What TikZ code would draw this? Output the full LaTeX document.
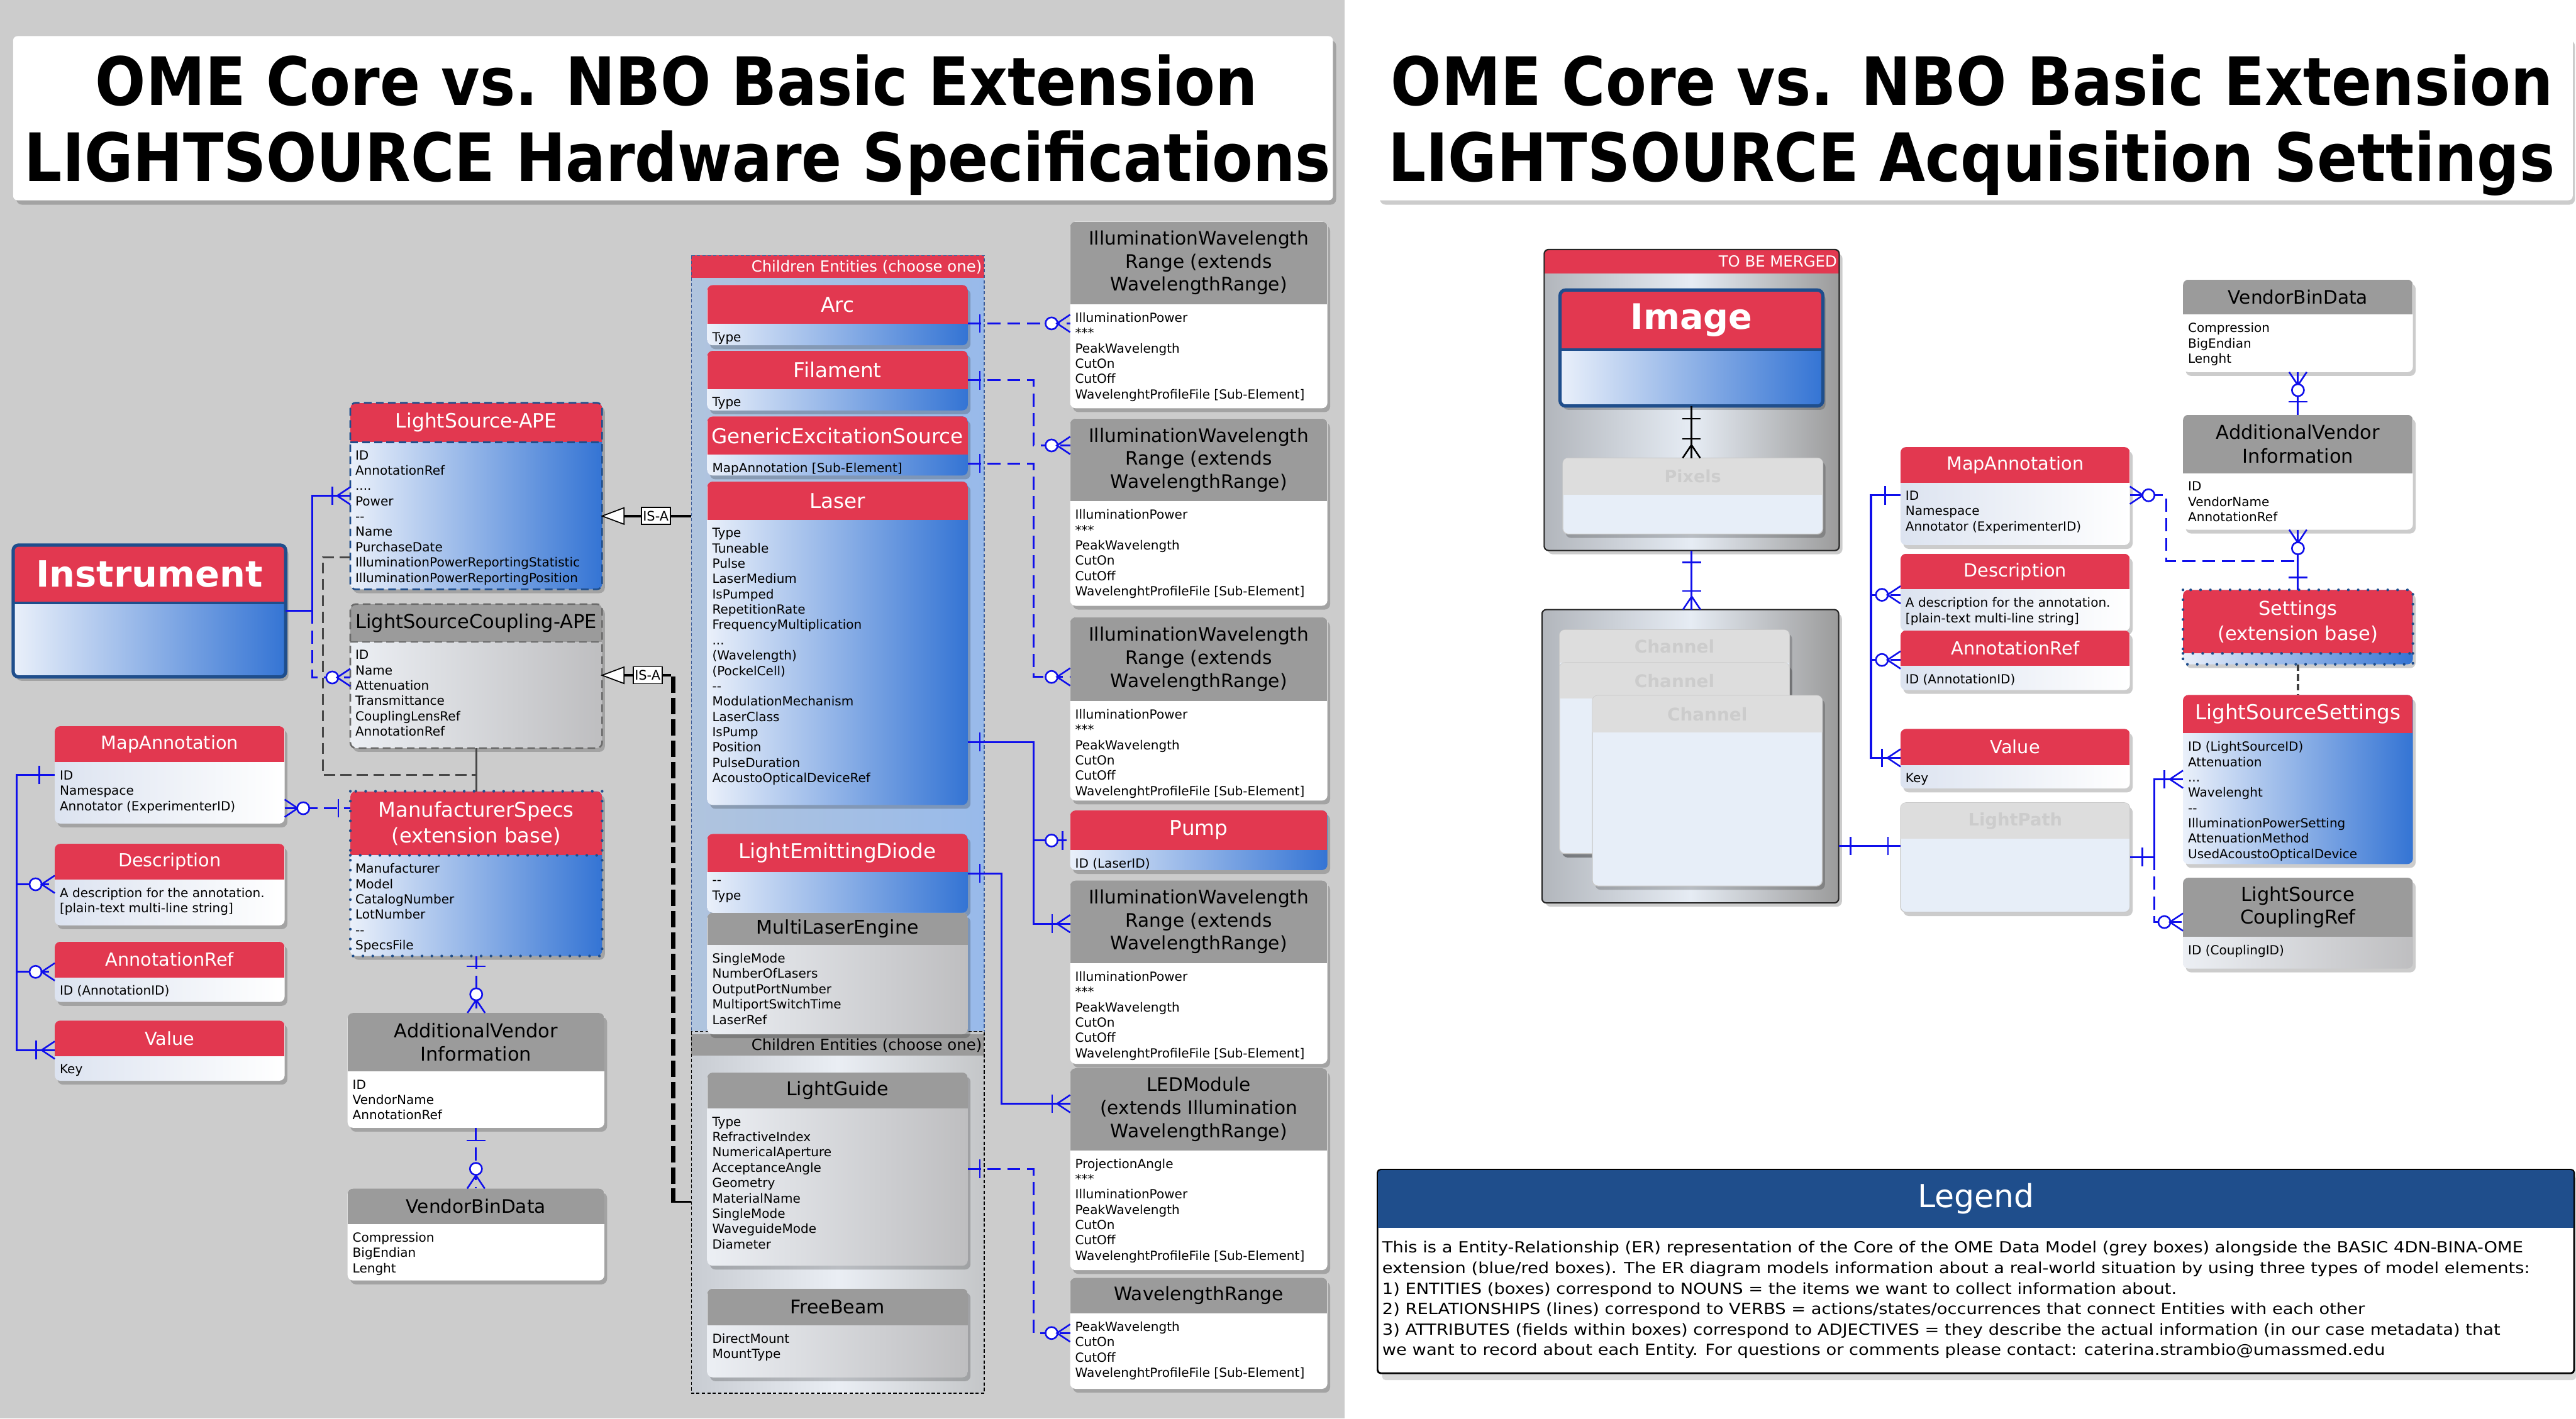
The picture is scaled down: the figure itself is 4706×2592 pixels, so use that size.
\documentclass[tikz,border=0pt]{standalone}
\usepackage{fontspec}
\setmainfont{DejaVu Sans}
\newfontfamily\tfont[FakeStretch=0.89]{DejaVu Sans}
\newfontfamily\wfont[FakeStretch=1.12]{DejaVu Sans}
\usetikzlibrary{calc}
\definecolor{cred}{RGB}{226,56,80}
\definecolor{cbl1}{RGB}{234,240,250}
\definecolor{cbl2}{RGB}{52,116,212}
\definecolor{cann}{RGB}{220,227,240}
\definecolor{cg1}{RGB}{236,239,244}
\definecolor{cg2}{RGB}{190,190,192}
\definecolor{cgh}{RGB}{155,155,155}
\definecolor{cfh}{RGB}{221,221,221}
\definecolor{cfb}{RGB}{231,238,248}
\definecolor{cft}{RGB}{204,204,204}
\definecolor{cfl}{RGB}{200,200,200}
\definecolor{cblue}{RGB}{15,15,235}
\definecolor{cdk}{RGB}{31,78,140}
\definecolor{cbg}{RGB}{204,204,204}
\definecolor{ccb1}{RGB}{176,196,222}
\definecolor{ccb2}{RGB}{152,186,234}
\definecolor{ccg1}{RGB}{200,204,210}
\definecolor{ccg2}{RGB}{234,238,244}
\definecolor{ccg3}{RGB}{196,198,200}
\definecolor{ctb1}{RGB}{178,182,188}
\definecolor{ctb2}{RGB}{230,236,244}
\definecolor{ctb3}{RGB}{155,155,155}
\newcommand\hfs{36}\newcommand\hbs{43}
\newcommand\hsz[2]{\renewcommand\hfs{#1}\renewcommand\hbs{#2}}
\tikzset{
 ebox/.style={inner sep=0pt, outer sep=0pt, rounded corners=10pt},
 htxt/.style={inner sep=0pt, align=center, font=\fontsize{\hfs}{\hbs}\selectfont},
 btxt/.style={inner sep=0pt, anchor=north west, align=left, font=\fontsize{23}{28}\selectfont, text=black, execute at begin node=\vphantom{I}},
 rb hdr/.style={fill=cred}, rb body/.style={left color=cbl1, right color=cbl2}, rb htext/.style={htxt, text=white},
 ra hdr/.style={fill=cred}, ra body/.style={left color=cann, right color=white}, ra htext/.style={htxt, text=white},
 gw hdr/.style={fill=cgh}, gw body/.style={fill=white}, gw htext/.style={htxt, text=black},
 gg hdr/.style={fill=cgh}, gg body/.style={left color=cg1, right color=cg2}, gg htext/.style={htxt, text=black},
 fd hdr/.style={fill=cfh}, fd body/.style={fill=cfb, draw=cfl, line width=1.5pt}, fd htext/.style={htxt, text=cft, font=\bfseries\fontsize{\hfs}{\hbs}\selectfont},
 conn/.style={draw=cblue, line width=3.5pt},
 dconn/.style={conn, dash pattern=on 24pt off 12pt},
 kconn/.style={draw=black, line width=4pt},
 mk/.style={draw=cblue, line width=3pt, solid},
 gdash/.style={draw=black!72, line width=3.5pt, dash pattern=on 20pt off 10pt},
 gsolid/.style={draw=black!72, line width=3.5pt},
 sdash/.style={draw=black!75, line width=5pt, dash pattern=on 12pt off 6pt},
 isabox/.style={draw=black, line width=2pt, fill=white, inner sep=3pt, minimum height=31pt, font=\fontsize{24}{26}\selectfont},
 isaline/.style={draw=black, line width=4pt},
 isadash/.style={draw=black, line width=8pt, dash pattern=on 30pt off 9pt},
 isatri/.style={draw=black, line width=2pt, fill=white},
 lsdash/.style={draw=cdk, line width=3pt, dash pattern=on 14pt off 8pt},
 lgdash/.style={draw=black!58, line width=3pt, dash pattern=on 14pt off 8pt},
 dotb/.style={draw=cdk, line width=5pt, line cap=round, dash pattern=on 0pt off 18pt},
 shadowc/.style={fill=black, opacity=0.2, rounded corners=10pt},
}
% #1 name #2 x1 #3 y1 #4 x2 #5 y2 #6 header bottom #7 type #8 header #9 body
\newcommand\ent[9]{%
 \fill[shadowc] ({#2+5},{#3+7}) rectangle ({#4+5},{#5+7});
 \node[ebox, #7 body, minimum width={(#4-#2)*1pt}, minimum height={(#5-#3)*1pt}] (#1) at ({(#2+#4)/2},{(#3+#5)/2}) {};
 \begin{scope}\clip[rounded corners=10pt] (#2,#3) rectangle (#4,#5); \fill[#7 hdr] (#2,#3) rectangle (#4,#6);\end{scope}
 \node[#7 htext] (#1-h) at ({(#2+#4)/2},{(#3+#6)/2}) {#8};
 \node[btxt] (#1-b) at ({#2+9},{#6+15}) {#9};}
\newcommand\mbar[4][cblue]{\draw[mk, draw=#1, shift={(#2)}, rotate=#3] (#4,-17) -- (#4,17);}
\newcommand\mcirc[4][cblue]{\draw[mk, draw=#1, fill=white, shift={(#2)}, rotate=#3] (#4,0) circle[radius=11];}
\newcommand\mcrow[3][cblue]{\draw[mk, draw=#1, shift={(#2)}, rotate=#3] (0,-16) -- (24,0) -- (0,16);}
\newcommand\iwrbody{IlluminationPower\\{***}\\PeakWavelength\\CutOn\\CutOff\\WavelenghtProfileFile [Sub-Element]}
\newcommand\iwrhead{IlluminationWavelength\\Range (extends\\WavelengthRange)}
\begin{document}
\begin{tikzpicture}[x=1pt,y=-1pt]
\useasboundingbox (0,0) rectangle (4706,2592);
\fill[cbg] (0,0) rectangle (2456,2592);
\fill[white] (2456,0) rectangle (4706,2592);
% titles
\fill[shadowc] (30,74) rectangle (2441,374);
\node[fill=white, rounded corners=8pt, minimum width=2411pt, minimum height=300pt, inner sep=0pt] (titleL) at (1229.5,216) {};
\node[anchor=base, inner sep=0pt, font=\tfont\bfseries\fontsize{122}{140}\selectfont] (titleL1) at (1236,192) {OME Core vs. NBO Basic Extension};
\node[anchor=base, inner sep=0pt, font=\tfont\bfseries\fontsize{122}{140}\selectfont] (titleL2) at (1238,332) {LIGHTSOURCE Hardware Specifications};
\fill[shadowc] (2521,74) rectangle (4704,374);
\node[fill=white, rounded corners=8pt, minimum width=2185pt, minimum height=300pt, inner sep=0pt] (titleR) at (3607.5,216) {};
\node[anchor=base, inner sep=0pt, font=\tfont\bfseries\fontsize{122}{140}\selectfont] (titleR1) at (3603,192) {OME Core vs. NBO Basic Extension};
\node[anchor=base, inner sep=0pt, font=\tfont\bfseries\fontsize{122}{140}\selectfont] (titleR2) at (3602,332) {LIGHTSOURCE Acquisition Settings};
% ---------------- LEFT PANEL
\hsz{66}{70}
\ent{instr}{24}{996}{522}{1237}{1102}{rb}{\bfseries Instrument}{}
\draw[cdk, line width=6pt, rounded corners=10pt] (24,996) rectangle (522,1237);
\draw[cdk, line width=4pt] (24,1102) -- (522,1102);
\hsz{36}{43}
\ent{lsape}{640}{736}{1100}{1077}{808}{rb}{LightSource-APE}{ID\\AnnotationRef\\....\\Power\\-{}-\\Name\\PurchaseDate\\IlluminationPowerReportingStatistic\\IlluminationPowerReportingPosition}
\draw[lsdash, rounded corners=10pt] (640,736) rectangle (1100,1077);
\draw[lsdash] (640,808) -- (1100,808);
\hsz{35}{42}
\ent{lscape}{640}{1104}{1100}{1367}{1173}{gg}{LightSourceCoupling-APE}{ID\\Name\\Attenuation\\Transmittance\\CouplingLensRef\\AnnotationRef}
\draw[lgdash, rounded corners=10pt] (640,1104) rectangle (1100,1367);
\draw[lgdash] (640,1173) -- (1100,1173);
\hsz{37}{47}
\ent{ms}{640}{1446}{1100}{1747}{1563}{rb}{ManufacturerSpecs\\(extension base)}{Manufacturer\\Model\\CatalogNumber\\LotNumber\\-{}-\\SpecsFile}
\draw[dotb] (640,1446) rectangle (1100,1747);
\draw[dotb] (640,1563) -- (1100,1563);
\hsz{33}{40}
\ent{mapL}{100}{1327}{520}{1505}{1393}{ra}{MapAnnotation}{ID\\Namespace\\Annotator (ExperimenterID)}
\ent{descL}{100}{1542}{520}{1691}{1607}{ra}{Description}{A description for the annotation.\\{[}plain-text multi-line string]}
\ent{arefL}{100}{1721}{520}{1831}{1786}{ra}{AnnotationRef}{ID (AnnotationID)}
\ent{valL}{100}{1865}{520}{1975}{1930}{ra}{Value}{Key}
\hsz{35}{42}
\ent{avil}{635}{1851}{1104}{2061}{1958}{gw}{AdditionalVendor\\Information}{ID\\VendorName\\AnnotationRef}
\hsz{34}{40}
\ent{vbdl}{635}{2172}{1104}{2340}{2237}{gw}{VendorBinData}{Compression\\BigEndian\\Lenght}
% containers
\node[inner sep=0pt, outer sep=0pt, left color=ccb1, right color=ccb2, minimum width=535pt, minimum height=1418pt] (bluec) at (1530.5,1176) {};
\fill[cred] (1263,467) rectangle (1798,508);
\node[anchor=east, inner sep=0pt, text=white, font=\fontsize{28}{30}\selectfont] (bluec-t) at (1794,488) {Children Entities (choose one)};
\draw[draw={rgb,255:red,59;green,90;blue,150}, line width=1.5pt, dash pattern=on 6pt off 4pt] (bluec.north west) rectangle (bluec.south east);
\node[inner sep=0pt, outer sep=0pt, left color=ccg1, right color=ccg3, middle color=ccg2, minimum width=535pt, minimum height=661pt] (grayc) at (1530.5,2215.5) {};
\fill[cgh] (1263,1890) rectangle (1798,1929);
\node[anchor=east, inner sep=0pt, text=black, font=\fontsize{28}{30}\selectfont] (grayc-t) at (1794,1910) {Children Entities (choose one)};
\draw[black, line width=1.5pt, dash pattern=on 6pt off 4pt] (grayc.north west) rectangle (grayc.south east);
\hsz{37.5}{44}
\ent{arc}{1292}{521}{1768}{631}{592}{rb}{Arc}{Type}
\ent{fil}{1292}{641}{1768}{750}{711}{rb}{Filament}{Type}
\ent{ges}{1292}{761}{1768}{869}{831}{rb}{GenericExcitationSource}{MapAnnotation [Sub-Element]}
\ent{laser}{1292}{880}{1768}{1471}{950}{rb}{Laser}{Type\\Tuneable\\Pulse\\LaserMedium\\IsPumped\\RepetitionRate\\FrequencyMultiplication\\...\\(Wavelength)\\(PockelCell)\\-{}-\\ModulationMechanism\\LaserClass\\IsPump\\Position\\PulseDuration\\AcoustoOpticalDeviceRef}
\ent{led}{1292}{1524}{1768}{1668}{1594}{rb}{LightEmittingDiode}{-{}-\\Type}
\hsz{34.5}{41}
\ent{mle}{1292}{1668}{1768}{1890}{1727}{gg}{MultiLaserEngine}{SingleMode\\NumberOfLasers\\OutputPortNumber\\MultiportSwitchTime\\LaserRef}
\ent{lg}{1292}{1960}{1768}{2313}{2026}{gg}{LightGuide}{Type\\RefractiveIndex\\NumericalAperture\\AcceptanceAngle\\Geometry\\MaterialName\\SingleMode\\WaveguideMode\\Diameter}
\ent{fb}{1292}{2355}{1768}{2517}{2422}{gg}{FreeBeam}{DirectMount\\MountType}
\hsz{34}{42}
\ent{iwra}{1955}{405}{2425}{746}{556}{gw}{\iwrhead}{\iwrbody}
\ent{iwrb}{1955}{765}{2425}{1107}{916}{gw}{\iwrhead}{\iwrbody}
\ent{iwrc}{1955}{1128}{2425}{1463}{1281}{gw}{\iwrhead}{\iwrbody}
\hsz{37.5}{44}
\ent{pump}{1955}{1481}{2425}{1590}{1553}{rb}{Pump}{ID (LaserID)}
\hsz{34}{42}
\ent{iwrd}{1955}{1609}{2425}{1944}{1760}{gw}{\iwrhead}{\iwrbody}
\ent{ledm}{1955}{1952}{2425}{2321}{2102}{gw}{LEDModule\\(extends Illumination\\WavelengthRange)}{ProjectionAngle\\{***}\\IlluminationPower\\PeakWavelength\\CutOn\\CutOff\\WavelenghtProfileFile [Sub-Element]}
\ent{wr}{1955}{2335}{2425}{2538}{2400}{gw}{WavelengthRange}{PeakWavelength\\CutOn\\CutOff\\WavelenghtProfileFile [Sub-Element]}
% ---------------- RIGHT PANEL
\fill[shadowc] (2827,463) rectangle (3366,1013);
\node[inner sep=0pt, outer sep=0pt, rounded corners=8pt, left color=ctb1, right color=ctb3, middle color=ctb2, minimum width=539pt, minimum height=550pt] (tbm) at (3090.5,731) {};
\begin{scope}\clip[rounded corners=8pt] (2821,456) rectangle (3360,1006); \fill[cred] (2821,456) rectangle (3360,500);\end{scope}
\node[anchor=east, inner sep=0pt, text=white, font=\fontsize{28}{30}\selectfont] (tbm-t) at (3356,478) {TO BE MERGED};
\draw[black!85, line width=2.5pt, rounded corners=8pt] (tbm.north west) rectangle (tbm.south east);
\hsz{64}{70}
\ent{image}{2850}{530}{3330}{742}{639}{rb}{\bfseries Image}{}
\draw[cdk, line width=6pt, rounded corners=10pt] (2850,530) rectangle (3330,742);
\draw[cdk, line width=4pt] (2850,639) -- (3330,639);
\hsz{31}{36}
\ent{pixels}{2855}{837}{3330}{976}{904}{fd}{Pixels}{}
\fill[shadowc] (2823,1121) rectangle (3365,1657);
\node[inner sep=0pt, outer sep=0pt, rounded corners=8pt, left color=ctb1, right color=ctb3, middle color=ctb2, minimum width=542pt, minimum height=536pt] (cont2) at (3088,1382) {};
\draw[black!85, line width=2.5pt, rounded corners=8pt] (cont2.north west) rectangle (cont2.south east);
\hsz{32}{36}
\ent{chA}{2849}{1151}{3269}{1560}{1211}{fd}{Channel}{}
\ent{chB}{2849}{1211}{3269}{1560}{1277}{fd}{Channel}{}
\ent{chC}{2909}{1271}{3329}{1619}{1339}{fd}{Channel}{}
\hsz{33}{40}
\ent{mapR}{3472}{817}{3891}{996}{882}{ra}{MapAnnotation}{ID\\Namespace\\Annotator (ExperimenterID)}
\ent{descR}{3472}{1012}{3891}{1153}{1077}{ra}{Description}{A description for the annotation.\\{[}plain-text multi-line string]}
\ent{arefR}{3472}{1152}{3891}{1261}{1217}{ra}{AnnotationRef}{ID (AnnotationID)}
\ent{valR}{3472}{1332}{3891}{1441}{1398}{ra}{Value}{Key}
\hsz{31.5}{36}
\ent{lpath}{3472}{1467}{3891}{1667}{1533}{fd}{LightPath}{}
\hsz{34}{40}
\ent{vbdr}{3988}{511}{4408}{680}{575}{gw}{VendorBinData}{Compression\\BigEndian\\Lenght}
\hsz{35}{44}
\ent{avir}{3988}{758}{4408}{968}{865}{gw}{AdditionalVendor\\Information}{ID\\VendorName\\AnnotationRef}
\hsz{35}{46}
\ent{settings}{3988}{1078}{4408}{1214}{1194}{rb}{Settings\\(extension base)}{}
\draw[dotb] (3988,1078) rectangle (4408,1214);
\draw[dotb] (3988,1194) -- (4408,1194);
\hsz{37.5}{44}
\ent{lss}{3988}{1270}{4408}{1579}{1340}{rb}{LightSourceSettings}{ID (LightSourceID)\\Attenuation\\...\\Wavelenght\\-{}-\\IlluminationPowerSetting\\AttenuationMethod\\UsedAcoustoOpticalDevice}
\hsz{35}{42}
\ent{lscref}{3988}{1604}{4408}{1770}{1712}{gg}{LightSource\\CouplingRef}{ID (CouplingID)}
% legend
\fill[black, opacity=0.15, rounded corners=6pt] (2525,2148) rectangle (4706,2522);
\node[fill=white, draw=black, line width=2pt, rounded corners=6pt, inner sep=0pt, minimum width=2185pt, minimum height=371pt] (legend) at (3609.5,2323.5) {};
\begin{scope}\clip[rounded corners=6pt] (2517,2138) rectangle (4702,2509); \fill[cdk] (2517,2138) rectangle (4702,2244);\end{scope}
\draw[black, line width=2pt, rounded corners=6pt] (legend.north west) rectangle (legend.south east);
\node[inner sep=0pt, text=white, font=\fontsize{58}{64}\selectfont] (legend-h) at (3610,2191) {Legend};
\node[anchor=north west, inner sep=0pt, align=left, font=\wfont\fontsize{28}{37.5}\selectfont] (legend-b) at (2525,2268) {This is a Entity-Relationship (ER) representation of the Core of the OME Data Model (grey boxes) alongside the BASIC 4DN-BINA-OME\\extension (blue/red boxes). The ER diagram models information about a real-world situation by using three types of model elements:\\1) ENTITIES (boxes) correspond to NOUNS = the items we want to collect information about.\\2) RELATIONSHIPS (lines) correspond to VERBS = actions/states/occurrences that connect Entities with each other\\3) ATTRIBUTES (fields within boxes) correspond to ADJECTIVES = they describe the actual information (in our case metadata) that\\we want to record about each Entity. For questions or comments please contact: caterina.strambio@umassmed.edu};
% ---------------- CONNECTORS LEFT
\coordinate (c1a) at ([yshift=-120pt]instr.north east);
\coordinate (c1b) at ([yshift=-170pt]lsape.north west);
\draw[conn] (c1a) -- (570,1116) |- (c1b);
\coordinate (c2b) at ([yshift=-134pt]lscape.north west);
\draw[dconn] (570,1116) |- (c2b);
\coordinate (c3a) at ([yshift=-282pt]lsape.north west);
\draw[gdash] (c3a) -- (590,1018) -- (590,1416) -- (870,1416);
\draw[gsolid] (lscape.south) -- (ms.north);
\coordinate (c5a) at ([yshift=-150pt]mapL.north east);
\coordinate (c5b) at ([yshift=-31pt]ms.north west);
\draw[dconn] (c5a) -- (c5b);
\coordinate (c6b) at (ms.south |- avil.north);
\draw[dconn] (ms.south) -- (c6b);
\coordinate (c7b) at (avil.south |- vbdl.north);
\draw[dconn] (avil.south) -- (c7b);
\coordinate (c8a) at ([yshift=-89pt]mapL.north west);
\coordinate (c8b) at ([yshift=-74pt]descL.north west);
\coordinate (c8c) at ([yshift=-55pt]arefL.north west);
\coordinate (c8d) at ([yshift=-54pt]valL.north west);
\draw[conn] (c8a) -- (30,1416) -- (30,1919) -- (c8d);
\draw[dconn] (30,1616) -- (c8b);
\draw[dconn] (30,1776) -- (c8c);
\mbar{c1b}{180}{33}\mcrow{c1b}{180}
\mcirc{c2b}{180}{33}\mcrow{c2b}{180}
\mcrow{c5a}{0}\mcirc{c5a}{0}{34}\mbar{c5b}{180}{22}
\mbar{ms.south}{-90}{19}\mcrow{c6b}{90}\mcirc{c6b}{90}{34}
\mbar{avil.south}{-90}{23}\mcrow{c7b}{90}\mcirc{c7b}{90}{36}
\mbar{c8a}{180}{28}
\mcirc{c8b}{180}{35}\mcrow{c8b}{180}
\mcirc{c8c}{180}{35}\mcrow{c8c}{180}
\mbar{c8d}{180}{34}\mcrow{c8d}{180}
% IS-A
\coordinate (t1) at ([yshift=-207pt]lsape.north east);
\coordinate (t1b) at ([yshift=-476pt]bluec.north west);
\node[isabox] (isa1) at (1198,943) {IS-A};
\draw[isaline] (t1b) -- (isa1.east);
\draw[isaline] (isa1.west) -- ([xshift=40pt]t1);
\draw[isatri] (t1) -- ++(40,-15) -- ++(0,30) -- cycle;
\coordinate (t2) at ([yshift=-130pt]lscape.north east);
\coordinate (t2b) at ([yshift=-311pt]grayc.north west);
\node[isabox] (isa2) at (1183,1234) {IS-A};
\draw[isaline] (isa2.west) -- ([xshift=40pt]t2);
\draw[isaline] (isa2.east) -- (1226,1234);
\draw[isadash] (1230,1236) -- (1230,2194);
\draw[isaline, line width=3pt] (1226,2196) -- (t2b);
\draw[isatri] (t2) -- ++(40,-15) -- ++(0,30) -- cycle;
% ---------------- CONNECTORS MIDDLE
\coordinate (d1a) at ([yshift=-70pt]arc.north east);
\coordinate (d1b) at ([yshift=-186pt]iwra.north west);
\draw[dconn] (d1a) -- (d1b);
\coordinate (d2a) at ([yshift=-54pt]fil.north east);
\coordinate (d2b) at ([yshift=-49pt]iwrb.north west);
\draw[dconn] (d2a) -| ([xshift=-67pt]d2b) -- (d2b);
\coordinate (d3a) at ([yshift=-86pt]ges.north east);
\coordinate (d3b) at ([yshift=-109pt]iwrc.north west);
\draw[dconn] (d3a) -| ([xshift=-67pt]d3b) -- (d3b);
\coordinate (d4a) at ([yshift=-476pt]laser.north east);
\coordinate (d4b) at ([yshift=-79pt]iwrd.north west);
\draw[conn] (d4a) -| ([xshift=-67pt]d4b) -- (d4b);
\coordinate (d5b) at ([yshift=-55pt]pump.north west);
\draw[dconn] ([xshift=-67pt]d5b) -- (d5b);
\coordinate (d6a) at ([yshift=-72pt]led.north east);
\coordinate (d6b) at ([yshift=-65pt]ledm.north west);
\draw[conn] (d6a) -| ([xshift=-125pt]d6b) -- (d6b);
\coordinate (d7a) at ([yshift=-176pt]lg.north east);
\coordinate (d7b) at ([yshift=-101pt]wr.north west);
\draw[dconn] (d7a) -| ([xshift=-67pt]d7b) -- (d7b);
\mbar{d1a}{0}{22}\mcirc{d1b}{180}{34}\mcrow{d1b}{180}
\mbar{d2a}{0}{22}\mcirc{d2b}{180}{34}\mcrow{d2b}{180}
\mbar{d3a}{0}{22}\mcirc{d3b}{180}{34}\mcrow{d3b}{180}
\mbar{d4a}{0}{22}\mbar{d4b}{180}{33}\mcrow{d4b}{180}
\mcirc{d5b}{180}{34}\mbar{d5b}{180}{14}
\mbar{d6a}{0}{22}\mbar{d6b}{180}{33}\mcrow{d6b}{180}
\mbar{d7a}{0}{22}\mcirc{d7b}{180}{34}\mcrow{d7b}{180}
% ---------------- CONNECTORS RIGHT
\coordinate (e1a) at (image.south);
\coordinate (e1b) at (image.south |- pixels.north);
\draw[kconn] (e1a) -- (e1b);
\mbar[black]{e1a}{-90}{23}\mbar[black]{e1b}{90}{35}\mcrow[black]{e1b}{90}
\coordinate (e2a) at (tbm.south);
\coordinate (e2b) at (tbm.south |- cont2.north);
\draw[conn] (e2a) -- (e2b);
\mbar{e2a}{-90}{22}\mbar{e2b}{90}{34}\mcrow{e2b}{90}
\coordinate (e3a) at ([yshift=-432pt]cont2.north east);
\coordinate (e3b) at ([yshift=-79pt]lpath.north west);
\draw[conn] (e3a) -- (e3b);
\mbar{e3a}{0}{22}\mbar{e3b}{180}{23}
\coordinate (e4a) at ([yshift=-88pt]mapR.north west);
\coordinate (e4b) at ([yshift=-75pt]descR.north west);
\coordinate (e4c) at ([yshift=-54pt]arefR.north west);
\coordinate (e4d) at ([yshift=-53pt]valR.north west);
\draw[conn] (e4a) -- (3418,905) -- (3418,1385) -- (e4d);
\draw[dconn] (3418,1087) -- (e4b);
\draw[dconn] (3418,1206) -- (e4c);
\mbar{e4a}{180}{28}
\mcirc{e4b}{180}{34}\mcrow{e4b}{180}
\mcirc{e4c}{180}{34}\mcrow{e4c}{180}
\mbar{e4d}{180}{34}\mcrow{e4d}{180}
\coordinate (e5a) at ([yshift=-88pt]mapR.north east);
\draw[dconn] (e5a) -- (3957,905) -- (3957,1025) -- ([yshift=53pt]settings.north);
\mcrow{e5a}{0}\mcirc{e5a}{0}{34}
\coordinate (e6a) at (vbdr.south);
\coordinate (e6b) at (vbdr.south |- avir.north);
\draw[conn] (e6a) -- (e6b);
\mcrow{e6a}{-90}\mcirc{e6a}{-90}{33}\mbar{e6b}{90}{24}
\coordinate (e7a) at (avir.south);
\coordinate (e7b) at (avir.south |- settings.north);
\draw[conn] (e7a) -- (e7b);
\mcrow{e7a}{-90}\mcirc{e7a}{-90}{34}\mbar{e7b}{90}{23}
\draw[sdash] (settings.south) -- (settings.south |- lss.north);
\coordinate (e8a) at ([yshift=-99pt]lpath.north east);
\coordinate (e8b) at ([yshift=-154pt]lss.north west);
\coordinate (e8c) at ([yshift=-81pt]lscref.north west);
\draw[conn] (e8a) -- (3936,1566) |- (e8b);
\draw[dconn] (3936,1566) |- (e8c);
\mbar{e8a}{0}{23}
\mbar{e8b}{180}{34}\mcrow{e8b}{180}
\mcirc{e8c}{180}{34}\mcrow{e8c}{180}
\end{tikzpicture}
\end{document}
